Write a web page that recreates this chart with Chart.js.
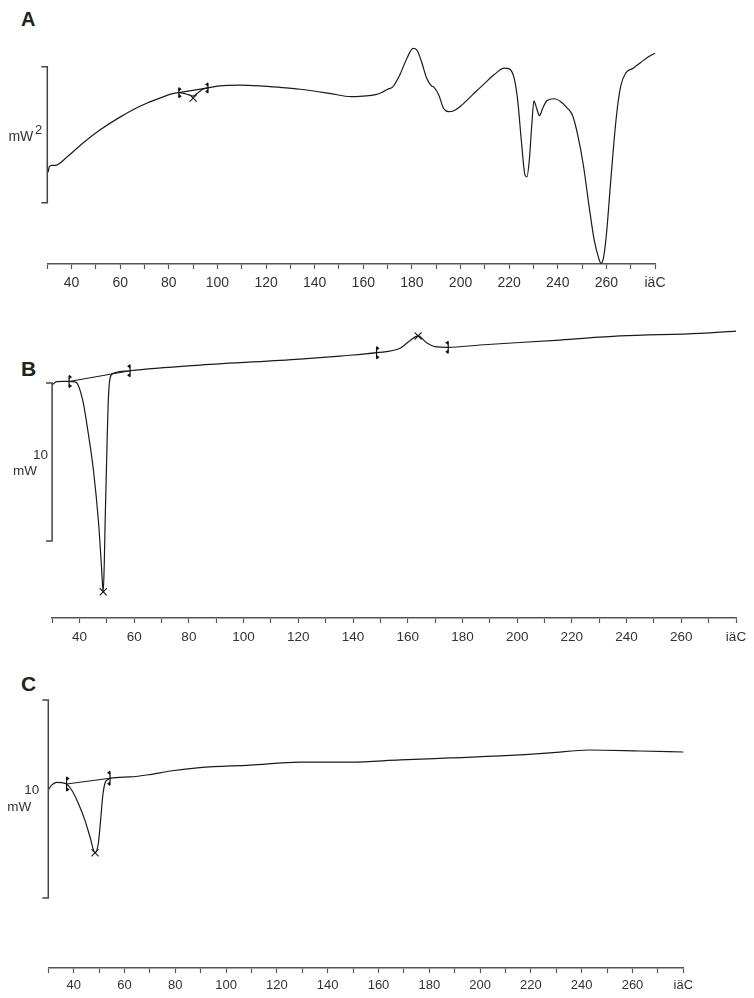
<!DOCTYPE html>
<html>
<head>
<meta charset="utf-8">
<script src="https://cdn.jsdelivr.net/npm/chart.js@4.4.1/dist/chart.umd.min.js"></script>
<style>
  body { margin: 0; background: #fff; width: 754px; height: 998px; position: relative; overflow: hidden; font-family: "Liberation Sans", Arial, sans-serif; }
  canvas { position: absolute; left: 0; }
  .tag { position: absolute; font-weight: bold; line-height: 1; color: #222; }
</style>
</head>
<body>
<div class="tag" style="left:21px;top:9px;font-size:20px">A</div>
<div class="tag" style="left:21px;top:358px;font-size:21px">B</div>
<div class="tag" style="left:21px;top:673px;font-size:21px">C</div>
<canvas id="chart-a" width="754" height="310" style="top:0px"></canvas>
<canvas id="chart-b" width="754" height="350" style="top:310px"></canvas>
<canvas id="chart-c" width="754" height="338" style="top:660px"></canvas>
<script>
// temperature (°C) / heat flow (mW, relative)
const tempA = [30, 30.3, 30.8, 31.8, 33.2, 38, 44.7, 51.6, 59.9, 68.1, 76.3, 84.1, 86, 88, 90, 92, 94, 96.1,
  100.9, 109.1, 117.3, 125, 134, 146, 155, 160, 165, 168, 170, 172, 175, 178, 180.5, 182, 184, 186, 188, 189,
  191, 193, 195, 197, 200, 205, 210, 214, 218, 220, 222, 223.5, 225, 226.5, 227.3, 228.3, 229.3, 230.2, 231.3,
  232.5, 233.8, 235.5, 238.5, 241.5, 244, 246, 248.2, 250.5, 252.8, 255, 256.8, 257.8, 258.8, 260, 261.5, 263,
  264.5, 266, 268, 271, 274, 277, 280];
const flowA = [1.43, 1.35, 1.43, 1.45, 1.45, 1.57, 1.78, 1.97, 2.16, 2.32, 2.44, 2.52, 2.51, 2.49, 2.47, 2.52, 2.57, 2.59,
  2.62, 2.63, 2.62, 2.60, 2.57, 2.51, 2.46, 2.47, 2.49, 2.53, 2.57, 2.60, 2.78, 3.03, 3.17, 3.15, 2.97, 2.74, 2.62, 2.60,
  2.49, 2.29, 2.24, 2.25, 2.32, 2.49, 2.66, 2.79, 2.88, 2.87, 2.74, 2.41, 1.82, 1.31, 1.28, 1.53, 2.04, 2.40, 2.29,
  2.18, 2.29, 2.40, 2.43, 2.38, 2.29, 2.19, 1.90, 1.46, 0.87, 0.35, 0.09, 0.01, 0.09, 0.43, 1.09, 1.75,
  2.29, 2.63, 2.81, 2.88, 2.96, 3.04, 3.10];

const tempB = [30, 31.7, 34, 36.2, 38.4, 39.5, 41.4, 43.2, 45.1, 46.9, 47.9, 48.5, 48.7, 49.1, 49.4, 50, 50.5, 51.2,
  52.4, 58.5, 84.1, 120.6, 135.2, 148.6, 157.2, 160.8, 163.8, 166.9, 170, 174.8, 186.4, 215.6, 237.5, 266.8, 280];
const flowB = [14.75, 14.96, 14.97, 14.97, 14.94, 14.75, 13.61, 11.71, 9.37, 6.20, 3.67, 1.98, 1.66, 3.67, 6.20, 10.44, 13.61, 15.19,
  15.49, 15.65, 16.01, 16.39, 16.58, 16.79, 17.07, 17.55, 17.85, 17.42, 17.17, 17.13, 17.28, 17.59, 17.85, 18.01, 18.16];

const tempC = [30, 31.3, 33.3, 35.3, 37.2, 39.2, 41.8, 44.4, 46.4, 48.4, 49.7, 50.6, 51.4, 52.3, 53.6, 54.3, 62.2, 70,
  78.1, 89.7, 109.5, 129.2, 148.9, 168.6, 188.2, 207.9, 227.6, 242.6, 263, 280];
const flowC = [8.99, 9.24, 9.38, 9.36, 9.29, 8.99, 8.32, 7.47, 6.63, 5.82, 6.30, 7.47, 8.65, 9.33, 9.53, 9.58, 9.65, 9.77,
  9.95, 10.12, 10.25, 10.40, 10.40, 10.51, 10.61, 10.71, 10.86, 11.01, 10.96, 10.91];

// integration limits: [temp, flow, direction of the little triangles]
const limitsA = [[84.1, 2.52, 1], [96.1, 2.59, -1]];
const limitsB = [[36.2, 14.97, 1], [58.5, 15.65, -1], [148.6, 16.79, 1], [174.8, 17.13, -1]];
const limitsC = [[37.2, 9.29, 1], [54.3, 9.58, -1]];
// baselines drawn between limits
const baseA = [[84.1, 2.52], [96.1, 2.59]];
const baseB = [[36.2, 14.97], [58.5, 15.65]];
const baseC = [[37.2, 9.29], [54.3, 9.58]];
// peak markers (x)
const peaksA = [[90, 2.44]];
const peaksB = [[48.7, 1.66], [163.8, 17.85]];
const peaksC = [[48.4, 5.82]];
// scale bars: [temp, from, to]
const barA = [30, 0.9, 2.9];
const barB = [30, 4.87, 14.87];
const barC = [30, 3.54, 13.54];

const xTicks = [30, 280, 10];
const unitLabel = "iäC";

const pts = (xs, ys) => xs.map((x, i) => ({ x, y: ys[i] }));
const pairs = (a) => a.map(([x, y]) => ({ x, y }));

const annot = {
  id: "annot",
  afterDatasetsDraw(chart, args, o) {
    const { ctx, scales: { x, y } } = chart;
    ctx.save();
    const bx = x.getPixelForValue(o.bar[0]);
    const y1 = y.getPixelForValue(o.bar[2]), y2 = y.getPixelForValue(o.bar[1]);
    ctx.strokeStyle = "#444";
    ctx.lineWidth = 1.5;
    ctx.beginPath();
    ctx.moveTo(bx - 6, y1); ctx.lineTo(bx, y1); ctx.lineTo(bx, y2); ctx.lineTo(bx - 6, y2);
    ctx.stroke();
    ctx.fillStyle = "#333";
    ctx.textAlign = "right";
    ctx.textBaseline = "middle";
    const mid = (y1 + y2) / 2;
    o.barText.forEach((t) => {
      ctx.font = t.size + "px 'Liberation Sans', Arial, sans-serif";
      ctx.fillText(t.text, bx + t.dx, mid + t.dy);
    });
    ctx.fillStyle = "#111";
    ctx.strokeStyle = "#111";
    ctx.lineWidth = 1.2;
    o.limits.forEach(([t, v, dir]) => {
      const px = x.getPixelForValue(t), py = y.getPixelForValue(v);
      const h = o.limitH;
      ctx.beginPath(); ctx.moveTo(px, py - h); ctx.lineTo(px, py + h); ctx.stroke();
      [py - h + 1.5, py + h - 1.5].forEach((yy) => {
        ctx.beginPath();
        ctx.moveTo(px, yy - 2.2); ctx.lineTo(px + 3 * dir, yy); ctx.lineTo(px, yy + 2.2);
        ctx.closePath(); ctx.fill();
      });
    });
    ctx.restore();
  },
};

function makeChart(id, p) {
  const yMax = (p.axis - p.areaTop) / p.pxPerMW;
  return new Chart(document.getElementById(id), {
    type: "line",
    data: {
      datasets: [
        { data: pts(p.temp, p.flow), borderColor: "#1a1a1a", borderWidth: 1.2, pointRadius: 0, cubicInterpolationMode: "monotone", clip: false },
        { data: pairs(p.base), borderColor: "#1a1a1a", borderWidth: 1.1, pointRadius: 0, clip: false },
        { data: pairs(p.peaks), showLine: false, pointStyle: "crossRot", pointRadius: 5, borderColor: "#1a1a1a", borderWidth: 1.1, clip: false },
      ],
    },
    options: {
      responsive: false,
      animation: false,
      events: [],
      layout: { padding: { left: p.left, right: 754 - p.right, top: p.areaTop - p.canvasTop, bottom: p.canvasH - 30 - (p.axis - p.canvasTop) } },
      plugins: {
        legend: { display: false },
        tooltip: { enabled: false },
        annot: { bar: p.bar, barText: p.barText, limits: p.limits, limitH: p.limitH },
      },
      scales: {
        x: {
          type: "linear",
          min: xTicks[0],
          max: xTicks[1],
          afterFit: (s) => { s.height = 30; },
          border: { color: "#555", width: 1.6 },
          grid: { drawOnChartArea: false, tickLength: 5, color: "#555", tickWidth: 1.2 },
          ticks: {
            stepSize: xTicks[2],
            autoSkip: false,
            maxRotation: 0,
            padding: p.tickPad,
            color: "#333",
            font: { family: "'Liberation Sans', Arial, sans-serif", size: p.font },
            callback: (v) => (v === xTicks[1] ? unitLabel : v % 20 === 0 && v >= 40 ? String(v) : ""),
          },
        },
        y: { display: false, min: 0, max: yMax },
      },
    },
    plugins: [annot],
  });
}

makeChart("chart-a", {
  temp: tempA, flow: flowA, base: baseA, peaks: peaksA, limits: limitsA, bar: barA, limitH: 5,
  barText: [{ text: "mW", dx: -14, dy: 2, size: 14 }, { text: "2", dx: -5, dy: -4, size: 13 }],
  canvasTop: 0, canvasH: 310, axis: 264, areaTop: 10, left: 47.3, right: 655, pxPerMW: 68, font: 14, tickPad: 6,
});
makeChart("chart-b", {
  temp: tempB, flow: flowB, base: baseB, peaks: peaksB, limits: limitsB, bar: barB, limitH: 6,
  barText: [{ text: "10", dx: -4, dy: -7, size: 13.5 }, { text: "mW", dx: -15, dy: 9, size: 13.5 }],
  canvasTop: 310, canvasH: 350, axis: 618, areaTop: 320, left: 52.1, right: 736, pxPerMW: 15.8, font: 13.5, tickPad: 6,
});
makeChart("chart-c", {
  temp: tempC, flow: flowC, base: baseC, peaks: peaksC, limits: limitsC, bar: barC, limitH: 7,
  barText: [{ text: "10", dx: -9, dy: -9, size: 13.5 }, { text: "mW", dx: -17, dy: 8, size: 13.5 }],
  canvasTop: 660, canvasH: 338, axis: 968, areaTop: 690, left: 48.3, right: 683.3, pxPerMW: 19.8, font: 13, tickPad: 5,
});
</script>
</body>
</html>
